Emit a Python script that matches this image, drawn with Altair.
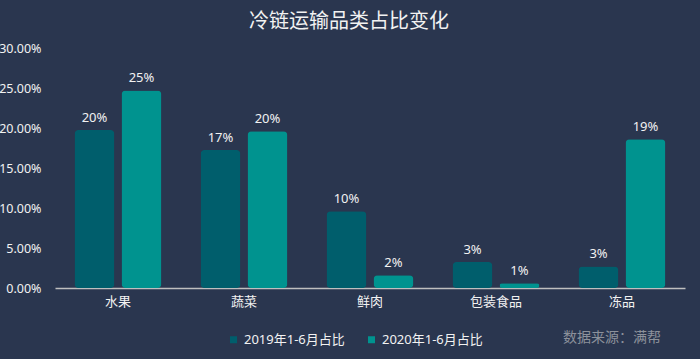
import altair as alt
import pandas as pd

categories = ["水果", "蔬菜", "鲜肉", "包装食品", "冻品"]
series = ["2019年1-6月占比", "2020年1-6月占比"]
values_2019 = [0.1975, 0.1725, 0.096, 0.0325, 0.027]
values_2020 = [0.247, 0.196, 0.016, 0.006, 0.186]
y_ticks = [0, 0.05, 0.10, 0.15, 0.20, 0.25, 0.30]
colors = ["#005E6C", "#00938F"]

rows = []
for c, a, b in zip(categories, values_2019, values_2020):
    rows.append({"cat": c, "series": series[0], "v": a})
    rows.append({"cat": c, "series": series[1], "v": b})
df = pd.DataFrame(rows)

FONT = "Noto Sans, Noto Sans CJK SC"
TXT = "#F2F2F2"

x = alt.X("cat:N", sort=categories, title=None,
          scale=alt.Scale(paddingInner=0.31, paddingOuter=0.155),
          axis=alt.Axis(labelAngle=0, labelColor=TXT, labelFontSize=13, labelFont=FONT,
                        labelPadding=7, ticks=False, domainColor="#BFBFBF", domainWidth=1.5))
xo = alt.XOffset("series:N", sort=series, scale=alt.Scale(paddingInner=0.15, paddingOuter=0))
y = alt.Y("v:Q", title=None,
          scale=alt.Scale(domain=[0, 0.3], nice=False),
          axis=alt.Axis(values=y_ticks, format=".2%", labelColor=TXT, labelFontSize=12.5,
                        labelFont=FONT, grid=False, domain=False, ticks=False, labelPadding=14))
color = alt.Color("series:N", sort=series, title=None,
                  scale=alt.Scale(domain=series, range=colors),
                  legend=alt.Legend(orient="none", legendX=172, legendY=285, direction="horizontal",
                                    symbolType="square", symbolSize=49, symbolStrokeWidth=0,
                                    labelColor=TXT, labelFontSize=13, labelFont=FONT,
                                    labelOffset=4, columnPadding=20))

base = alt.Chart(df)
bars = base.mark_bar(cornerRadius=4).encode(x=x, xOffset=xo, y=y, color=color)
labels = base.mark_text(baseline="bottom", dy=-5, color=TXT, fontSize=13, font=FONT).encode(
    x=x, xOffset=xo, y=y, text=alt.Text("v:Q", format=".0%"))

wm = alt.Chart(pd.DataFrame({"t": ["数据来源：满帮"]})).mark_text(
    align="left", baseline="middle", fontSize=14, color="#8C919B", font="Noto Sans CJK SC"
).encode(x=alt.value(508), y=alt.value(290), text="t:N")

chart = alt.layer(bars, labels, wm).properties(
    width=630, height=240,
    autosize=alt.AutoSizeParams(type="none"),
    padding={"left": 55, "top": 48, "right": 15, "bottom": 71},
    background="#2A364F",
    title=alt.TitleParams("冷链运输品类占比变化", color=TXT, fontSize=20, fontWeight="normal",
                          font="Noto Sans CJK SC", anchor="middle", dx=-21, offset=10),
).configure_view(stroke=None)

chart.save("out.html", embed_options={"renderer": "svg", "actions": False})
